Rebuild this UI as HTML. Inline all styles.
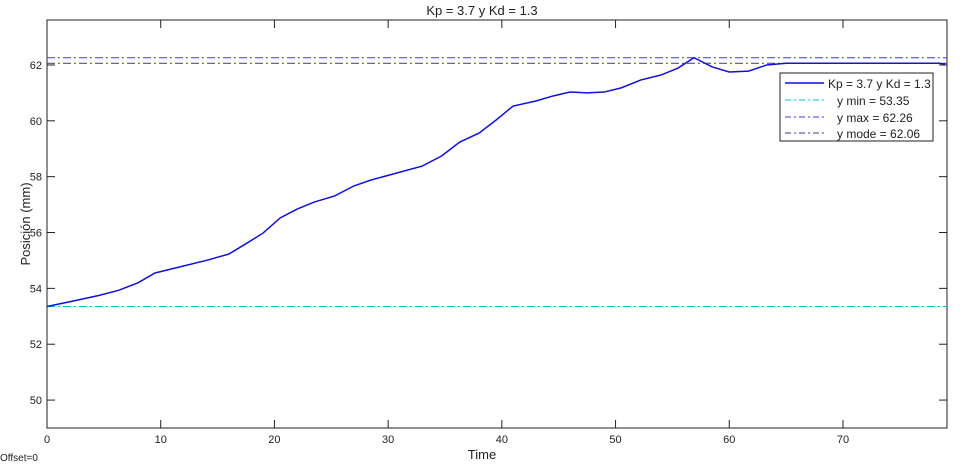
<!DOCTYPE html>
<html><head><meta charset="utf-8"><style>
body{margin:0;background:#fff;width:964px;height:465px;overflow:hidden}
svg text{font-family:"Liberation Sans",Arial,sans-serif;fill:#222}
</style></head><body>
<svg id="chart" width="964" height="465">
<rect x="0" y="0" width="964" height="465" fill="#fff"/>
<text x="482" y="15" text-anchor="middle" font-size="13">Kp = 3.7 y Kd = 1.3</text>
<g id="axes"></g>
<g id="marks"></g>
<text x="482" y="459" text-anchor="middle" font-size="13">Time</text>
<text x="30" y="224" text-anchor="middle" font-size="13" transform="rotate(-90 30 224)">Posición (mm)</text>
<text x="0" y="461" font-size="10">Offset=0</text>
<g>
<rect x="780" y="73" width="153" height="68" fill="#fff" stroke="#222" stroke-width="1"/>
<line x1="785" y1="83" x2="824" y2="83" stroke="#1010e0" stroke-width="1.5"/>
<text x="828" y="88" font-size="12">Kp = 3.7 y Kd = 1.3</text>
<line x1="785" y1="100" x2="824" y2="100" stroke="#00bfbf" stroke-dasharray="6,3,2,3"/>
<text x="837" y="105" font-size="12">y min = 53.35</text>
<line x1="785" y1="117" x2="824" y2="117" stroke="#3c3cdc" stroke-dasharray="6,3,2,3"/>
<text x="837" y="122" font-size="12">y max = 62.26</text>
<line x1="785" y1="133" x2="824" y2="133" stroke="#3a3a8a" stroke-dasharray="6,3,2,3"/>
<text x="837" y="138" font-size="12">y mode = 62.06</text>
</g>
</svg>
<script>
const times=[0,2,4.5,6.3,8,9.5,12,14,16,17.5,19,20.5,22,23.5,25.3,27,28.5,33,34.7,36.3,38,39.5,41,43,44.5,46,47.5,49,50.5,52.2,54,55.5,56.9,58.5,60,61.7,63.3,65,70,78.5,79];
const positions=[53.35,53.52,53.74,53.93,54.2,54.55,54.8,55.0,55.23,55.6,55.98,56.52,56.84,57.09,57.31,57.67,57.88,58.38,58.74,59.24,59.56,60.03,60.53,60.71,60.89,61.03,61.0,61.03,61.18,61.46,61.64,61.89,62.26,61.93,61.75,61.78,62.0,62.06,62.06,62.06,62.03];
const refValues=[53.35,62.26,62.06];
const refNames=['ymin-line','ymax-line','ymode-line'];
const refColors=['#00bfbf','#3c3cdc','#3a3a8a'];
const xTicks=[0,10,20,30,40,50,60,70];
const yTicks=[50,52,54,56,58,60,62];
const X0=47,X1=947,Y0=428,Y1=20,xmin=0,xmax=79.15,ymin=49,ymax=63.61;
const sx=v=>X0+(v-xmin)/(xmax-xmin)*(X1-X0);
const sy=v=>Y0-(v-ymin)/(ymax-ymin)*(Y0-Y1);
const NS='http://www.w3.org/2000/svg';
const axes=document.getElementById('axes'),marks=document.getElementById('marks');
function mk(tag,attrs,parent){const e=document.createElementNS(NS,tag);for(const k in attrs)e.setAttribute(k,attrs[k]);parent.appendChild(e);return e;}
const box=mk('rect',{x:X0,y:Y1,width:X1-X0,height:Y0-Y1,fill:'none',stroke:'#222','stroke-width':1},axes);


xTicks.forEach(t=>{const x=sx(t);
mk('line',{x1:x,y1:Y0,x2:x,y2:Y0-8,stroke:'#222'},axes);
mk('line',{x1:x,y1:Y1,x2:x,y2:Y1+8,stroke:'#222'},axes);
const tx=mk('text',{x:x,y:Y0+15,'text-anchor':'middle','font-size':11},axes);tx.textContent=t;

});
yTicks.forEach(t=>{const y=sy(t);
mk('line',{x1:X0,y1:y,x2:X0+8,y2:y,stroke:'#222'},axes);
mk('line',{x1:X1,y1:y,x2:X1-8,y2:y,stroke:'#222'},axes);
const tx=mk('text',{x:X0-5,y:y+4,'text-anchor':'end','font-size':11},axes);tx.textContent=t;

});
refValues.forEach((v,i)=>{const l=mk('line',{x1:X0,x2:X1,y1:sy(v),y2:sy(v),stroke:refColors[i],'stroke-dasharray':'8,3,2,3','stroke-width':1},marks);

});
const p=mk('polyline',{points:times.map((t,i)=>sx(t)+','+sy(positions[i])).join(' '),fill:'none',stroke:'#1010e0','stroke-width':1.5},marks);


</script>
</body></html>
